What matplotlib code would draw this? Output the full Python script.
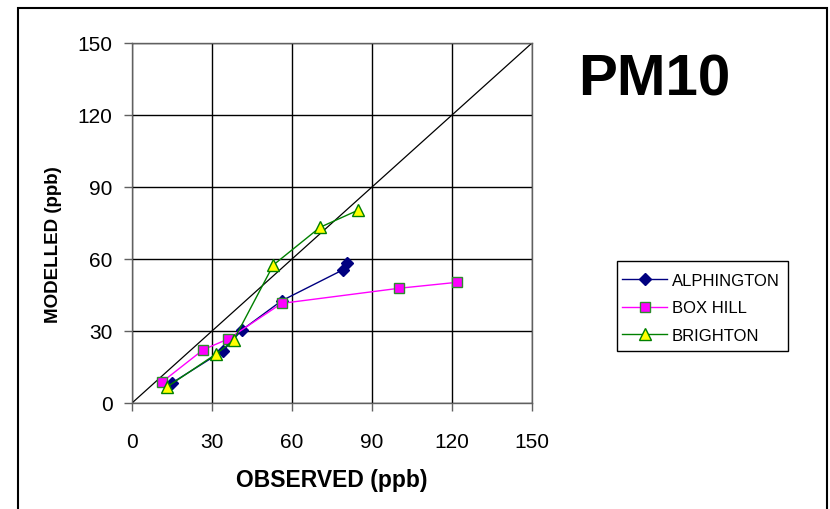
import matplotlib
matplotlib.use("Agg")
import matplotlib.pyplot as plt
from matplotlib.patches import Rectangle

plt.rcParams['font.family'] = ['Liberation Sans', 'DejaVu Sans']

# Observed vs modelled PM10 concentrations (ppb) at three monitoring sites
alphington_obs = [14.9, 34.2, 41.2, 56.1, 79.3, 80.6]
alphington_mod = [8.3, 21.8, 30.4, 42.6, 55.6, 58.2]

boxhill_obs = [11.1, 26.7, 36.1, 56.1, 100.1, 122.0]
boxhill_mod = [8.6, 22.2, 26.7, 41.5, 47.8, 50.3]

brighton_obs = [13.3, 31.5, 38.1, 53.0, 70.5, 84.9]
brighton_mod = [6.8, 20.4, 26.1, 57.5, 73.2, 80.4]

ticks = [0, 30, 60, 90, 120, 150]
one_to_one = [0, 150]

W, H = 830, 510
fig = plt.figure(figsize=(W / 100, H / 100), dpi=100)
ax = fig.add_axes([132 / W, 1 - 404 / H, 400 / W, 360 / H])


def fig_rect(x0, y0, x1, y1, **kw):
    """Rectangle given in pixel coordinates measured from the top-left corner."""
    return Rectangle((x0 / W, 1 - y1 / H), (x1 - x0) / W, (y1 - y0) / H,
                     transform=fig.transFigure, fill=False, **kw)


# outer chart frame
fig.patches.append(fig_rect(18, 9, 827, 540, edgecolor='black', linewidth=1.5))

ax.plot(one_to_one, one_to_one, color='black', linewidth=0.9, zorder=2)

ax.plot(alphington_obs, alphington_mod, color='#000080', linewidth=1.0,
        marker='D', markersize=6.5, markerfacecolor='#000080',
        markeredgecolor='#000080', label='ALPHINGTON', zorder=3)
ax.plot(boxhill_obs, boxhill_mod, color='#FF00FF', linewidth=1.0,
        marker='s', markersize=7, markerfacecolor='#FF00FF',
        markeredgecolor='#2E8B2E', markeredgewidth=1.0, label='BOX HILL', zorder=3)
ax.plot(brighton_obs, brighton_mod, color='#008000', linewidth=1.0,
        marker='^', markersize=8.5, markerfacecolor='#FFFF00',
        markeredgecolor='#008000', markeredgewidth=1.0, label='BRIGHTON', zorder=3)

ax.set_xlim(0, 150)
ax.set_ylim(0, 150)
ax.set_xticks(ticks)
ax.set_yticks(ticks)
ax.grid(True, color='black', linewidth=1.0)
ax.set_axisbelow(True)
for s in ax.spines.values():
    s.set_color('#606060')
    s.set_linewidth(1.0)
ax.tick_params(direction='out', length=6, width=1.0, color='#606060',
               labelsize=15)
ax.tick_params(axis='x', pad=15)
ax.tick_params(axis='y', pad=8)

ax.set_xlabel('OBSERVED (ppb)', fontsize=16.5, fontweight='bold', va='center')
ax.xaxis.set_label_coords((332 - 132) / 400, (404 - 481) / 360)
ax.set_ylabel('MODELLED (ppb)', fontsize=13.5, fontweight='bold', va='center')
ax.yaxis.set_label_coords((53.5 - 132) / 400, (404 - 245) / 360)

fig.text(654 / W, 1 - 80 / H, 'PM10', fontsize=42, fontweight='bold',
         ha='center', va='center')

# legend box drawn separately so its padding can be set independently
fig.patches.append(fig_rect(617, 262, 787.5, 351.5, edgecolor='black', linewidth=1.0))
leg = ax.legend(loc='center left', bbox_to_anchor=(622 / W, 1 - 309 / H),
                bbox_transform=fig.transFigure, fontsize=12, frameon=False,
                handlelength=2.7, borderpad=0, borderaxespad=0,
                labelspacing=0.75, handletextpad=0.3)

fig.savefig('out.png', dpi=100)
